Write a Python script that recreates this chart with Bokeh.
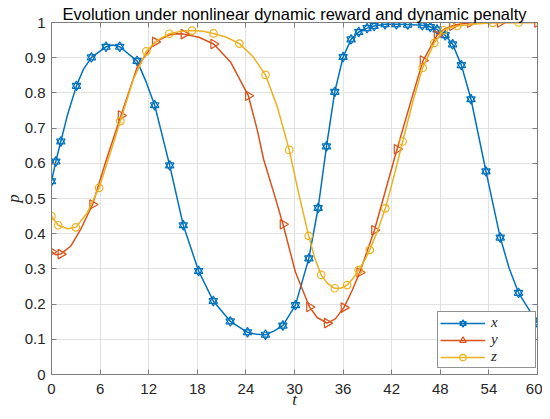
from math import pi
from bokeh.plotting import figure
from bokeh.models import Range1d, FixedTicker, Legend, LegendItem, LinearAxis, Title
from bokeh.embed import file_html
from bokeh.resources import INLINE

# ---------------- data ----------------
title_text = "Evolution under nonlinear dynamic reward and dynamic penalty"
x_axis_label = "t"
y_axis_label = "p"
series_names = ["x", "y", "z"]

t_ticks = [0, 6, 12, 18, 24, 30, 36, 42, 48, 54, 60]
p_ticks = [0, 0.1, 0.2, 0.3, 0.4, 0.5, 0.6, 0.7, 0.8, 0.9, 1]
p_tick_labels = ["0", "0.1", "0.2", "0.3", "0.4", "0.5", "0.6", "0.7", "0.8", "0.9", "1"]

# series x (markers)
x_t = [0, 0.53, 1.15, 3.08, 4.93, 6.73, 8.42, 10.56, 12.74, 14.59, 16.27, 18.16,
       19.97, 22.07, 24.2, 26.42, 28.56, 30.12, 31.77, 32.92, 33.95, 34.97, 36.0,
       36.99, 37.93, 38.96, 39.83, 41.18, 42.58, 43.97, 45.78, 46.77, 47.6, 48.6,
       49.52, 50.6, 51.79, 53.64, 55.4, 57.66, 59.93]
x_p = [0.549, 0.605, 0.662, 0.820, 0.901, 0.931, 0.931, 0.891, 0.765, 0.594, 0.424,
       0.294, 0.209, 0.151, 0.120, 0.113, 0.139, 0.197, 0.330, 0.473, 0.648, 0.803,
       0.902, 0.952, 0.973, 0.984, 0.990, 0.995, 0.995, 0.994, 0.992, 0.987, 0.980,
       0.964, 0.938, 0.879, 0.782, 0.577, 0.389, 0.232, 0.148]
# extra points
x_line_t = [1.97, 3.94, 7.6, 11.67, 25.3, 27.5, 56.5, 60]
x_line_p = [0.737, 0.867, 0.936, 0.832, 0.114, 0.124, 0.302, 0.145]

# series y (markers)
y_t = [0, 1.15, 5.07, 8.58, 12.8, 16.35, 20.02, 24.3, 28.58, 31.85, 34.03, 36.1,
       38.05, 39.87, 42.66, 45.87, 47.6, 49.5, 51.7, 55.4, 60]
y_p = [0.349, 0.342, 0.483, 0.736, 0.945, 0.967, 0.939, 0.792, 0.427, 0.192, 0.146,
       0.190, 0.290, 0.410, 0.640, 0.892, 0.964, 0.991, 0.999, 1.0, 1.0]
# extra points
y_line_t = [0.55, 2.38, 3.6, 6.8, 10.6, 14.6, 15.5, 18.2, 22.1, 25.4, 26.2, 27.45,
            30.1, 32.8, 35.05, 37.1, 41.2, 44.3, 48.5, 50.5, 53.5, 57.5]
y_line_p = [0.340, 0.365, 0.412, 0.612, 0.874, 0.965, 0.968, 0.958, 0.888, 0.695,
            0.610, 0.516, 0.292, 0.162, 0.158, 0.238, 0.520, 0.771, 0.981, 0.996,
            0.9995, 1.0]

# series z (markers)
z_t = [0, 0.82, 3.0, 5.87, 8.5, 11.7, 14.55, 17.35, 20.0, 23.2, 26.42, 29.35,
       31.75, 33.29, 34.97, 36.5, 37.93, 39.29, 41.22, 43.35, 45.82, 47.26, 48.4,
       50.1, 54.5, 57.66]
z_p = [0.450, 0.424, 0.418, 0.530, 0.720, 0.918, 0.968, 0.977, 0.969, 0.940, 0.851,
       0.638, 0.394, 0.283, 0.245, 0.254, 0.297, 0.354, 0.472, 0.662, 0.871, 0.942,
       0.978, 0.990, 0.999, 1.0]
# extra points
z_line_t = [1.97, 4.4, 7.2, 10.1, 13.1, 16.0, 18.7, 21.6, 24.8, 27.87, 30.5, 32.5,
            34.1, 35.7, 37.2, 38.6, 40.2, 42.3, 44.6, 49.2, 52.3, 56.0, 60]
z_line_p = [0.414, 0.459, 0.625, 0.838, 0.950, 0.975, 0.975, 0.958, 0.905, 0.761,
            0.516, 0.330, 0.258, 0.245, 0.272, 0.322, 0.405, 0.565, 0.775, 0.986,
            0.996, 0.9995, 1.0]

colors = ["#0072BD", "#D95319", "#EDB120"]

# ---------------- figure ----------------
axis_col = "#7d7d7d"
text_col = "#262626"
grid_col = "#e2e2e2"

p = figure(width=542, height=411, output_backend="svg", toolbar_location=None,
           x_range=Range1d(0, 60), y_range=Range1d(0, 1),
           min_border_left=51, min_border_right=5, min_border_top=22,
           min_border_bottom=35)
p.outline_line_color = None
p.background_fill_color = "white"
p.border_fill_color = "white"

for ax in (p.xaxis[0], p.yaxis[0]):
    ax.major_tick_in = 5
    ax.major_tick_out = 0
    ax.minor_tick_line_color = None
    ax.axis_line_color = axis_col
    ax.major_tick_line_color = axis_col
    ax.major_label_text_color = text_col
    ax.major_label_text_font = "Liberation Sans"
    ax.major_label_text_font_size = "15px"
    ax.axis_label_text_font = "Liberation Serif"
    ax.axis_label_text_font_style = "italic"
    ax.axis_label_text_font_size = "17px"
    ax.axis_label_text_color = text_col
p.xaxis.ticker = FixedTicker(ticks=t_ticks)
p.yaxis.ticker = FixedTicker(ticks=p_ticks)
p.yaxis.major_label_overrides = {v: s for v, s in zip(p_ticks, p_tick_labels)}
p.xaxis.major_label_standoff = 9
p.yaxis.major_label_standoff = 6
p.xaxis.axis_label = x_axis_label
p.yaxis.axis_label = y_axis_label
p.xaxis.axis_label_standoff = -7
p.yaxis.axis_label_standoff = -1

for loc, ticks in (("above", t_ticks), ("right", p_ticks)):
    extra = LinearAxis(ticker=FixedTicker(ticks=ticks),
                       major_label_overrides={v: "" for v in ticks},
                       major_label_text_font_size="1px",
                       major_tick_in=5, major_tick_out=0, minor_tick_line_color=None,
                       axis_line_color=axis_col, major_tick_line_color=axis_col,
                       major_label_standoff=0)
    p.add_layout(extra, loc)

p.add_layout(Title(text=title_text, align="center", standoff=0,
                   text_font="Liberation Sans", text_font_style="normal",
                   text_font_size="16.5px", text_color="black"), "above")

p.xgrid.ticker = FixedTicker(ticks=t_ticks)
p.ygrid.ticker = FixedTicker(ticks=p_ticks)
p.xgrid.grid_line_color = grid_col
p.ygrid.grid_line_color = grid_col


def merged(tm, pm, te, pe):
    pts = sorted(zip(list(tm) + list(te), list(pm) + list(pe)))
    return [a for a, _ in pts], [b for _, b in pts]


items = []
# x: hexagram markers
lt, lp = merged(x_t, x_p, x_line_t, x_line_p)
r_line = p.line(lt, lp, line_color=colors[0], line_width=1.5)
r_m1 = p.scatter(x_t, x_p, marker="triangle", size=8.5, line_color=colors[0],
                 fill_color=None, line_width=1.2)
r_m2 = p.scatter(x_t, x_p, marker="inverted_triangle", size=8.5, line_color=colors[0],
                 fill_color=None, line_width=1.2)
items.append(LegendItem(label=series_names[0], renderers=[r_line, r_m1, r_m2]))

# y: right-pointing triangles
lt, lp = merged(y_t, y_p, y_line_t, y_line_p)
r_line = p.line(lt, lp, line_color=colors[1], line_width=1.5)
r_m = p.scatter(x=y_t, y=y_p, marker="triangle", angle=-pi / 2, size=9.5,
                line_color=colors[1], fill_color=None, line_width=1.2)
items.append(LegendItem(label=series_names[1], renderers=[r_line, r_m]))

# z: circles
lt, lp = merged(z_t, z_p, z_line_t, z_line_p)
r_line = p.line(lt, lp, line_color=colors[2], line_width=1.5)
r_m = p.scatter(z_t, z_p, marker="circle", size=7.5, line_color=colors[2],
                fill_color=None, line_width=1.2)
items.append(LegendItem(label=series_names[2], renderers=[r_line, r_m]))

legend = Legend(items=items, location=(386, 6), margin=0, padding=2, spacing=0,
                glyph_width=45, glyph_height=16, label_height=14, label_width=42,
                label_standoff=6, label_text_font="Liberation Serif",
                label_text_font_style="italic", label_text_font_size="15px",
                label_text_color=text_col, border_line_color=text_col,
                border_line_width=1, background_fill_color="white",
                background_fill_alpha=1.0)
p.add_layout(legend)

open("out.html", "w").write(file_html(p, INLINE))
